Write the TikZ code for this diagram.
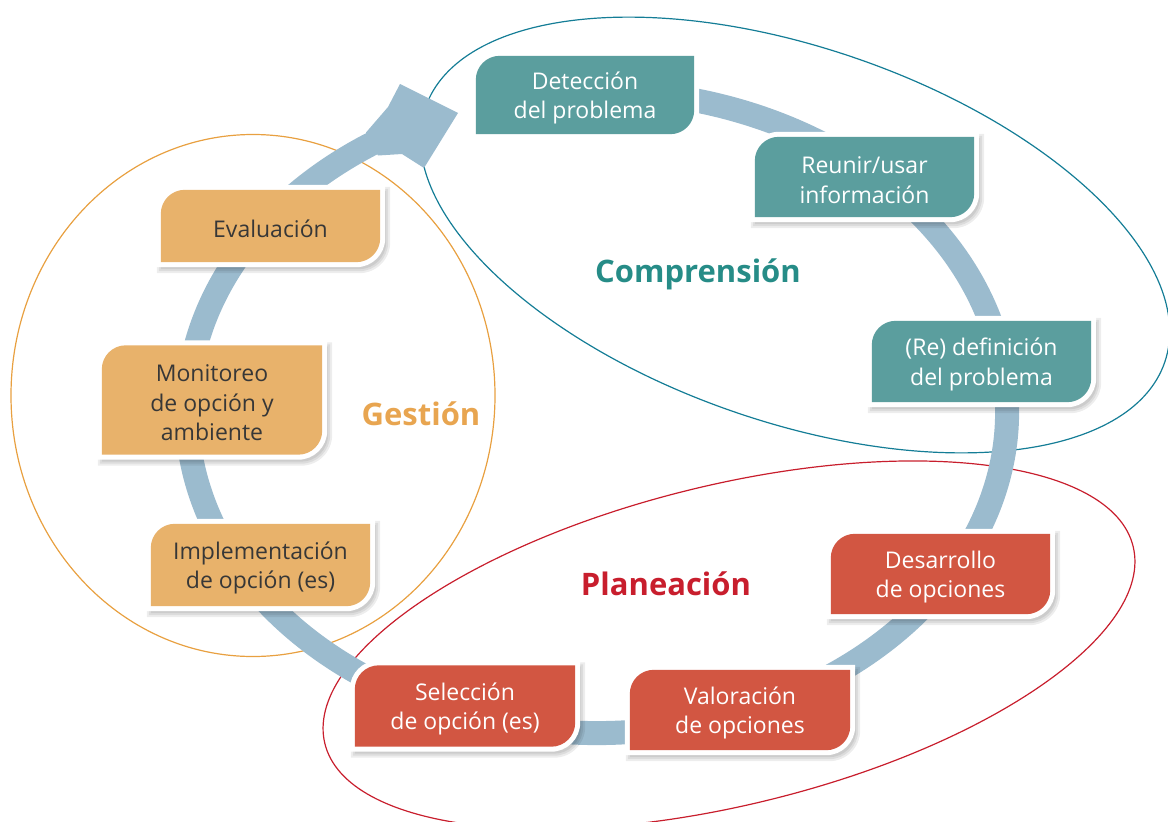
\documentclass[tikz,border=0pt]{standalone}
\usepackage{fontspec}
\setmainfont{Open Sans}
\usetikzlibrary{calc,backgrounds}

\definecolor{tealbox}{RGB}{91,158,158}
\definecolor{orangebox}{RGB}{232,178,107}
\definecolor{redbox}{RGB}{210,86,66}
\definecolor{ringcol}{RGB}{155,187,206}
\definecolor{tealline}{RGB}{20,125,150}
\definecolor{orangeline}{RGB}{232,160,64}
\definecolor{redline}{RGB}{200,30,45}
\definecolor{comptext}{RGB}{38,140,135}
\definecolor{gesttext}{RGB}{232,165,80}
\definecolor{plantext}{RGB}{200,30,45}
\definecolor{darktext}{RGB}{55,55,55}

% tile outline: rounded top-left and bottom-right corners, grown by #2;
% the text sits 3pt below the middle of its tile
\newcommand\tilefill[3]{%
  \fill[#3] ($(#1.south west)+(-#2,#2-3)$) -- ($(#1.north west)+(-#2,24-3)$)
    arc[start angle=180,end angle=270,radius=24+#2]
    -- ($(#1.north east)+(#2,-#2-3)$) -- ($(#1.south east)+(#2,-24-3)$)
    arc[start angle=0,end angle=90,radius=24+#2] -- cycle;}
\newcommand\tileshadow[1]{%
  \foreach \g in {3,5,7}{%
    \tilefill{#1}{\g}{black,opacity=0.07,transform canvas={shift={(3pt,-4pt)}}}}}

\tikzset{
  tile/.style={rectangle, inner sep=0pt, align=center,
    font=\fontsize{23}{29.5}\selectfont},
  tealtile/.style={tile, text=white},
  redtile/.style={tile, text=white},
  orangetile/.style={tile, text=darktext},
  phase/.style={font=\fontsize{31}{36}\selectfont\bfseries},
  outline/.style={line width=1.2pt},
  ring/.style={draw=ringcol, line width=24pt},
}

\begin{document}
\begin{tikzpicture}[x=1pt,y=-1pt]
\useasboundingbox (0,0) rectangle (1168,822);

% step tiles (text layer)
\node[tealtile, minimum width=218, minimum height=78] (det) at (585,98) {Detección\\del problema};
\node[tealtile, minimum width=219, minimum height=80] (reu) at (864.5,180) {Reunir/usar\\información};
\node[tealtile, minimum width=219, minimum height=81] (rdef) at (981.5,364.5) {(Re) definición\\del problema};
\node[redtile, minimum width=219, minimum height=80] (des) at (940.5,577) {Desarrollo\\de opciones};
\node[redtile, minimum width=220, minimum height=80] (val) at (740,713) {Valoración\\de opciones};
\node[redtile, minimum width=220, minimum height=81] (sel) at (465,709) {Selección\\de opción (es)};
\node[orangetile, minimum width=219, minimum height=82] (imp) at (260.5,568) {Implementación\\de opción (es)};
\node[orangetile, minimum width=220, minimum height=109] (mon) at (212,403) {Monitoreo\\de opción y\\ambiente};
\node[orangetile, minimum width=219, minimum height=72] (eva) at (270.5,229) {Evaluación};

% phase labels
\node[phase, text=comptext] (lcomp) at (698,274) {Comprensión};
\node[phase, text=gesttext] (lgest) at (421,414) {Gestión};
\node[phase, text=plantext] (lplan) at (666,584) {Planeación};

\coordinate (ctr) at (597,412);

\begin{scope}[on background layer]
  \clip (0,0) rectangle (1168,822);
  % phase groupings
  \draw[outline, draw=tealline, rotate around={-19:(795,235)}]
    (795,235) ellipse [x radius=391, y radius=187];
  \draw[outline, draw=orangeline] (253,395.5) ellipse [x radius=242, y radius=261];
  \draw[outline, draw=redline, rotate around={13.7:(729,645)}]
    (729,645) ellipse [x radius=416, y radius=160];

  % cycle ring with its arrow head
  \draw[ring] ($(ctr)+(255:410 and 321)$)
    arc[start angle=255, end angle=598, x radius=410, y radius=321];
  \fill[ringcol] (366,132.5) -- (388,107) -- (400,84) -- (458,113)
    -- (424,168) -- (402,154) -- (378,155.5) -- cycle;

  % tile backgrounds
  \tilefill{det}{5}{white}
  \tilefill{det}{0}{tealbox}
  \foreach \n/\c in {reu/tealbox, rdef/tealbox, des/redbox, val/redbox,
                     sel/redbox, imp/orangebox, mon/orangebox, eva/orangebox}{
    \tileshadow{\n}
    \tilefill{\n}{5}{white}
    \tilefill{\n}{0}{\c}
  }
\end{scope}
\end{tikzpicture}
\end{document}
